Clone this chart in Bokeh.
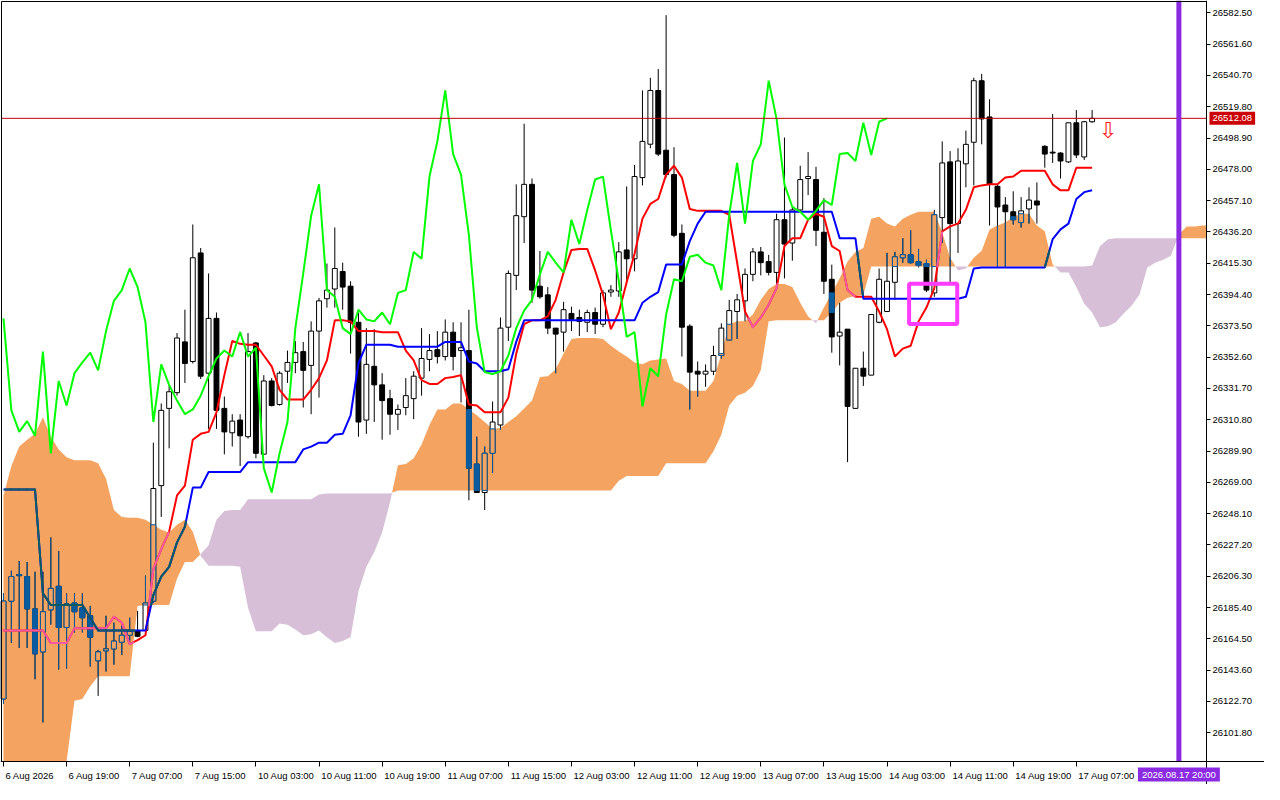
import numpy as np
from bokeh.plotting import figure
from bokeh.models import Range1d, FixedTicker, NumeralTickFormatter, Label, BoxAnnotation
from bokeh.core.properties import value
from bokeh.embed import file_html
from bokeh.resources import INLINE

# hourly candles, 6 Aug 2026 11:00 .. 17 Aug 2026 (bar index = position on the chart)
opens = [
    26124.4, 26189.7, 26207.4, 26206.1, 26184.5, 26155.8, 26183.9, 26199.6, 26172.1, 26188.4,
    26185.2, 26179.9, 26149.9, 26156.5, 26157.8, 26162.3, 26166.9, 26170.1, 26170.1, 26189.7,
    26266.8, 26318.4, 26328.9, 26362.8, 26349.7, 26422.2, 26341.9, 26378.5, 26318.4, 26302.1,
    26310.6, 26299.5, 26362.1, 26287.8, 26336.7, 26321.0, 26343.2, 26349.1, 26356.3, 26347.1,
    26370.0, 26391.6, 26398.1, 26409.8, 26400.0, 26375.9, 26310.6, 26346.5, 26334.1, 26324.9,
    26314.5, 26319.0, 26324.9, 26338.6, 26351.1, 26357.6, 26353.0, 26369.3, 26357.0, 26357.0,
    26281.2, 26262.2, 26288.4, 26307.3, 26372.6, 26407.2, 26446.4, 26468.0, 26400.0, 26394.2,
    26372.0, 26369.3, 26381.8, 26379.1, 26375.9, 26382.4, 26374.6, 26396.1, 26396.8, 26424.2,
    26418.3, 26472.5, 26494.8, 26530.7, 26490.8, 26474.5, 26435.3, 26373.3, 26343.2, 26341.3,
    26343.2, 26353.7, 26364.1, 26383.1, 26390.2, 26407.9, 26422.9, 26416.4, 26409.2, 26444.4,
    26428.8, 26450.9, 26471.9, 26471.2, 26436.0, 26404.6, 26366.7, 26371.3, 26318.4, 26345.2,
    26340.6, 26375.9, 26383.1, 26402.6, 26419.0, 26421.0, 26416.4, 26415.1, 26395.5, 26445.8,
    26483.0, 26441.8, 26481.7, 26496.1, 26537.2, 26513.0, 26466.7, 26454.2, 26449.7, 26442.5,
    26451.6, 26456.9, 26493.4, 26489.5, 26488.9, 26483.0, 26509.1, 26486.3, 26509.8,
]
highs = [
    26194.9, 26210.0, 26216.5, 26215.8, 26209.3, 26209.3, 26232.2, 26223.1, 26194.9, 26194.9,
    26194.9, 26186.5, 26157.1, 26179.9, 26175.3, 26173.4, 26178.6, 26183.2, 26206.7, 26295.5,
    26321.7, 26334.1, 26368.7, 26384.3, 26441.2, 26425.5, 26408.5, 26382.4, 26326.3, 26314.5,
    26314.5, 26368.7, 26362.8, 26340.6, 26338.6, 26343.2, 26357.0, 26363.4, 26362.8, 26376.5,
    26392.2, 26415.1, 26439.2, 26415.7, 26403.3, 26382.4, 26372.0, 26371.3, 26341.9, 26330.8,
    26321.0, 26338.6, 26343.2, 26372.0, 26368.0, 26370.0, 26377.8, 26375.9, 26375.9, 26384.3,
    26299.5, 26292.9, 26323.0, 26379.1, 26410.5, 26468.0, 26508.5, 26471.9, 26423.5, 26399.4,
    26372.0, 26389.6, 26386.3, 26384.3, 26384.3, 26385.7, 26397.4, 26400.7, 26429.4, 26466.6,
    26481.0, 26530.7, 26539.2, 26545.0, 26581.0, 26492.8, 26441.2, 26374.6, 26349.7, 26347.8,
    26360.2, 26375.2, 26390.9, 26394.8, 26411.8, 26425.5, 26426.2, 26420.9, 26448.4, 26499.3,
    26452.9, 26480.4, 26489.5, 26479.7, 26458.8, 26414.4, 26388.9, 26371.3, 26345.2, 26356.3,
    26381.1, 26411.8, 26422.2, 26422.9, 26432.0, 26437.3, 26424.9, 26417.7, 26451.0, 26496.7,
    26490.2, 26492.1, 26503.9, 26539.2, 26541.8, 26524.8, 26468.0, 26459.5, 26463.4, 26459.5,
    26466.0, 26469.3, 26494.1, 26515.0, 26489.5, 26509.1, 26517.6, 26510.4, 26517.6,
]
lows = [
    26121.2, 26161.7, 26158.4, 26158.4, 26137.5, 26108.7, 26174.0, 26144.0, 26144.7, 26168.8,
    26168.8, 26146.0, 26126.4, 26142.7, 26147.3, 26153.8, 26160.4, 26165.6, 26166.9, 26188.4,
    26245.9, 26291.7, 26326.9, 26335.4, 26348.4, 26338.0, 26304.7, 26304.7, 26287.7, 26292.9,
    26279.9, 26298.2, 26285.1, 26287.8, 26319.7, 26320.3, 26335.4, 26341.9, 26319.0, 26314.5,
    26325.6, 26385.7, 26385.7, 26384.3, 26355.0, 26299.5, 26301.4, 26309.3, 26297.5, 26300.8,
    26304.0, 26313.8, 26311.2, 26326.9, 26343.2, 26348.4, 26350.4, 26343.8, 26322.3, 26257.0,
    26262.2, 26250.5, 26275.3, 26304.0, 26363.4, 26397.4, 26428.8, 26388.9, 26391.6, 26368.0,
    26341.9, 26356.3, 26370.0, 26366.7, 26369.3, 26368.0, 26372.6, 26392.9, 26392.9, 26403.3,
    26409.9, 26467.3, 26492.1, 26486.9, 26472.5, 26432.7, 26353.0, 26317.7, 26326.3, 26332.8,
    26340.6, 26351.7, 26364.1, 26364.8, 26376.5, 26403.3, 26407.2, 26407.2, 26400.7, 26405.2,
    26417.0, 26449.6, 26460.8, 26426.8, 26394.8, 26355.6, 26347.1, 26282.5, 26318.4, 26333.4,
    26340.6, 26375.2, 26383.1, 26390.9, 26415.7, 26415.1, 26412.5, 26396.1, 26392.9, 26428.8,
    26402.6, 26422.2, 26466.0, 26467.3, 26494.7, 26440.5, 26412.5, 26412.5, 26441.2, 26439.2,
    26441.8, 26441.8, 26479.1, 26482.3, 26471.9, 26482.3, 26485.6, 26484.3, 26509.1,
]
closes = [
    26189.7, 26206.1, 26206.7, 26184.5, 26154.5, 26182.6, 26198.2, 26172.1, 26187.8, 26182.6,
    26178.6, 26165.6, 26155.8, 26157.8, 26163.0, 26166.9, 26169.5, 26166.2, 26188.4, 26264.9,
    26317.1, 26329.5, 26365.4, 26348.4, 26419.0, 26339.9, 26378.5, 26317.1, 26302.7, 26309.9,
    26300.1, 26356.3, 26288.4, 26336.7, 26320.3, 26341.9, 26349.1, 26355.6, 26343.8, 26370.0,
    26390.2, 26397.4, 26411.8, 26399.4, 26375.9, 26309.3, 26347.8, 26334.1, 26323.6, 26314.5,
    26317.7, 26326.9, 26339.9, 26351.7, 26357.0, 26353.0, 26369.3, 26353.0, 26358.9, 26278.5,
    26262.2, 26288.4, 26309.3, 26372.0, 26408.5, 26447.1, 26468.0, 26397.4, 26392.9, 26372.0,
    26368.0, 26384.3, 26377.8, 26376.5, 26382.4, 26374.6, 26395.5, 26397.4, 26422.9, 26418.3,
    26473.2, 26496.7, 26530.7, 26488.2, 26474.5, 26434.0, 26372.6, 26342.6, 26341.3, 26343.2,
    26353.7, 26372.0, 26383.7, 26390.9, 26407.9, 26422.9, 26415.7, 26409.2, 26444.4, 26428.1,
    26450.9, 26471.2, 26473.2, 26437.3, 26403.3, 26366.1, 26369.3, 26319.7, 26345.2, 26339.9,
    26381.1, 26404.6, 26403.3, 26419.6, 26421.0, 26415.7, 26413.8, 26397.4, 26447.7, 26482.3,
    26441.8, 26483.6, 26494.7, 26537.2, 26511.7, 26468.0, 26452.9, 26449.7, 26444.4, 26450.3,
    26457.5, 26454.2, 26488.2, 26488.9, 26483.6, 26509.1, 26487.6, 26509.8, 26512.08,
]

# Ichimoku lines
tenkan = [
    26170.1, 26170.1, 26170.1, 26170.1, 26170.1, 26170.1, 26161.7, 26161.7, 26161.7, 26171.5,
    26171.5, 26171.5, 26171.5, 26171.5, 26179.3, 26175.3, 26161.0, 26163.6, 26166.9, 26211.3,
    26224.4, 26236.1, 26260.3, 26266.8, 26297.5, 26301.4, 26302.7, 26315.8, 26340.6, 26363.4,
    26361.5, 26360.9, 26360.9, 26353.7, 26346.5, 26330.8, 26324.3, 26324.3, 26324.3, 26330.8,
    26338.6, 26350.4, 26377.2, 26377.2, 26376.5, 26370.0, 26370.0, 26370.0, 26369.3, 26369.3,
    26369.3, 26357.0, 26350.4, 26337.3, 26334.7, 26334.7, 26338.6, 26339.3, 26340.6, 26321.0,
    26320.3, 26315.8, 26315.8, 26315.8, 26325.6, 26355.0, 26374.6, 26377.2, 26377.2, 26379.8,
    26390.9, 26409.2, 26424.2, 26424.9, 26424.9, 26410.5, 26394.2, 26371.3, 26382.4, 26402.7,
    26421.6, 26445.1, 26454.9, 26458.2, 26474.5, 26480.4, 26472.5, 26451.6, 26450.3, 26450.3,
    26450.3, 26450.3, 26447.7, 26415.7, 26383.1, 26372.6, 26379.1, 26387.6, 26398.7, 26426.8,
    26432.0, 26432.0, 26444.4, 26448.4, 26446.4, 26426.8, 26423.5, 26397.4, 26392.9, 26392.9,
    26392.9, 26383.1, 26371.3, 26353.0, 26358.3, 26360.2, 26376.5, 26385.7, 26398.7, 26436.6,
    26439.9, 26441.8, 26451.0, 26466.0, 26467.3, 26468.0, 26468.0, 26472.5, 26473.2, 26477.1,
    26477.1, 26477.1, 26477.1, 26468.0, 26464.0, 26464.0, 26479.1, 26479.1, 26479.1,
]
kijun = [
    26264.2, 26264.2, 26264.2, 26264.2, 26264.2, 26194.9, 26187.1, 26187.1, 26187.1, 26187.1,
    26187.1, 26178.6, 26170.1, 26170.1, 26170.1, 26170.1, 26170.1, 26170.1, 26170.1, 26193.7,
    26206.1, 26212.6, 26228.9, 26239.4, 26265.5, 26265.5, 26275.9, 26275.9, 26275.9, 26275.9,
    26275.9, 26282.5, 26282.5, 26282.5, 26282.5, 26282.5, 26282.5, 26282.5, 26291.0, 26292.9,
    26295.5, 26295.5, 26300.8, 26301.4, 26313.8, 26348.4, 26360.9, 26360.9, 26360.9, 26360.9,
    26359.6, 26359.6, 26359.6, 26359.6, 26359.6, 26359.6, 26362.8, 26362.8, 26362.8, 26349.7,
    26348.4, 26343.2, 26343.2, 26343.2, 26344.5, 26362.8, 26377.2, 26377.2, 26377.2, 26377.2,
    26377.2, 26377.2, 26377.2, 26377.2, 26377.2, 26377.2, 26377.2, 26377.2, 26377.2, 26377.2,
    26377.2, 26388.9, 26392.9, 26396.1, 26414.4, 26414.4, 26414.4, 26430.1, 26441.8, 26449.7,
    26449.7, 26449.7, 26449.7, 26449.7, 26449.7, 26449.7, 26449.7, 26449.7, 26449.7, 26449.7,
    26449.7, 26449.7, 26449.7, 26449.7, 26449.7, 26449.7, 26432.0, 26432.0, 26432.0, 26391.6,
    26391.6, 26391.6, 26391.6, 26391.6, 26391.6, 26391.6, 26391.6, 26391.6, 26391.6, 26391.6,
    26391.6, 26391.6, 26392.9, 26411.8, 26412.5, 26412.5, 26412.5, 26412.5, 26412.5, 26412.5,
    26412.5, 26412.5, 26412.5, 26431.4, 26437.9, 26441.8, 26458.2, 26462.8, 26464.1,
]
# Senkou spans (already shifted 26 bars ahead, so they run past the last candle)
span_a = [
    26260.3, 26279.9, 26293.0, 26297.5, 26301.4, 26312.5, 26299.5, 26291.0, 26285.8, 26283.8,
    26283.8, 26283.8, 26281.8, 26271.4, 26250.5, 26245.9, 26245.3, 26245.3, 26244.0, 26240.7,
    26237.4, 26235.5, 26240.7, 26244.0, 26236.1, 26219.8, 26213.3, 26213.3, 26213.3, 26213.3,
    26212.6, 26185.2, 26169.5, 26169.5, 26169.5, 26174.7, 26174.0, 26170.8, 26166.9, 26167.5,
    26170.1, 26165.6, 26161.7, 26163.0, 26165.6, 26196.3, 26212.6, 26222.4, 26235.5, 26255.7,
    26280.5, 26281.2, 26285.1, 26294.2, 26307.3, 26317.7, 26317.7, 26321.7, 26321.7, 26317.7,
    26313.8, 26309.3, 26304.7, 26305.3, 26309.3, 26313.2, 26318.4, 26323.6, 26339.3, 26339.9,
    26344.5, 26355.0, 26364.8, 26365.4, 26365.4, 26365.4, 26364.8, 26360.2, 26356.3, 26353.0,
    26349.1, 26347.8, 26350.4, 26351.1, 26351.7, 26336.7, 26334.7, 26330.2, 26330.2, 26330.2,
    26336.7, 26355.0, 26374.6, 26376.5, 26376.5, 26381.1, 26390.9, 26398.1, 26401.4, 26401.4,
    26399.4, 26388.9, 26379.8, 26375.2, 26385.7, 26395.5, 26405.3, 26416.4, 26422.9, 26425.5,
    26445.1, 26446.4, 26441.8, 26439.9, 26445.1, 26447.7, 26449.7, 26449.7, 26449.7, 26435.9,
    26419.0, 26410.5, 26411.8, 26419.0, 26423.6, 26437.9, 26440.5, 26442.5, 26446.4, 26448.4,
    26448.4, 26440.5, 26436.6, 26414.4, 26409.2, 26409.2, 26399.4, 26388.3, 26382.4, 26372.6,
    26373.3, 26375.9, 26381.8, 26387.0, 26394.2, 26412.5, 26415.7, 26417.7, 26420.3, 26434.7,
    26439.9, 26439.9, 26440.5, 26440.5,
]
span_b = [
    26074.2, 26074.2, 26074.2, 26074.2, 26074.2, 26074.2, 26074.2, 26074.2, 26074.2, 26123.2,
    26124.4, 26132.9, 26139.5, 26139.5, 26139.5, 26139.5, 26139.5, 26186.5, 26187.1, 26187.1,
    26187.1, 26187.1, 26204.8, 26215.9, 26215.9, 26221.1, 26227.0, 26244.0, 26249.8, 26250.5,
    26250.5, 26257.7, 26257.7, 26257.7, 26257.7, 26257.7, 26257.7, 26257.7, 26257.7, 26257.7,
    26260.9, 26261.6, 26261.6, 26261.6, 26261.6, 26261.6, 26261.6, 26261.6, 26261.6, 26261.6,
    26263.6, 26263.6, 26263.6, 26263.6, 26263.6, 26263.6, 26263.6, 26263.6, 26263.6, 26263.6,
    26263.6, 26263.6, 26263.6, 26263.6, 26263.6, 26263.6, 26263.6, 26263.6, 26263.6, 26263.6,
    26263.6, 26263.6, 26263.6, 26263.6, 26263.6, 26263.6, 26263.6, 26263.6, 26270.1, 26273.3,
    26273.3, 26273.3, 26273.3, 26273.3, 26281.8, 26281.8, 26281.8, 26281.8, 26281.8, 26281.8,
    26289.7, 26300.8, 26320.4, 26326.9, 26328.9, 26333.4, 26343.9, 26376.5, 26377.2, 26377.2,
    26377.2, 26377.2, 26377.2, 26377.2, 26377.2, 26382.4, 26388.9, 26392.2, 26393.5, 26394.2,
    26413.1, 26413.1, 26413.1, 26413.1, 26413.1, 26413.1, 26413.1, 26413.1, 26413.1, 26413.1,
    26413.1, 26413.1, 26413.1, 26413.1, 26413.1, 26413.1, 26413.1, 26413.1, 26413.1, 26413.1,
    26413.1, 26413.1, 26413.1, 26413.1, 26413.1, 26413.1, 26413.1, 26413.1, 26413.8, 26426.8,
    26431.4, 26432.0, 26432.0, 26432.0, 26432.0, 26432.0, 26432.0, 26432.0, 26432.0, 26432.0,
    26432.0, 26432.0, 26432.0, 26432.0,
]

time_labels = [
    "6 Aug 2026", "6 Aug 19:00", "7 Aug 07:00", "7 Aug 15:00", "10 Aug 03:00", "10 Aug 11:00",
    "10 Aug 19:00", "11 Aug 07:00", "11 Aug 15:00", "12 Aug 03:00", "12 Aug 11:00", "12 Aug 19:00",
    "13 Aug 07:00", "13 Aug 15:00", "14 Aug 03:00", "14 Aug 11:00", "14 Aug 19:00", "17 Aug 07:00",
]
price_ticks = [
    26101.80, 26122.70, 26143.60, 26164.50, 26185.40, 26206.30, 26227.20, 26248.10,
    26269.00, 26289.90, 26310.80, 26331.70, 26352.60, 26373.50, 26394.40, 26415.30,
    26436.20, 26457.10, 26478.00, 26498.90, 26519.80, 26540.70, 26561.60, 26582.50,
]
last_price = 26512.08
cursor_bar = 149
cursor_label = "2026.08.17 20:00"
signal_bar = 140
signal_price = 26503.9
box_bars = (114.8, 120.9)
box_prices = (26374.8, 26401.6)

ORANGE = "#f4a460"
THISTLE = "#d8bfd8"
# MT4 paints the cloud in XOR mode: black, red and blue turn into these
INV_BLACK = "#0b5b9f"
INV_RED = "#f45b9f"
INV_BLUE = "#0b5b60"
FONT = "Liberation Sans"
FONT_PX = 9.5

W, H = 1264, 784
RIGHT_PX, BOTTOM_PX = 58, 23          # room for the price and time scales
X0, XA = -0.25, 152.5                 # visible bars; price scale sits at XA
Y0, Y1 = 26082.6, 26590.1             # visible prices; time scale sits at Y0
BAR_PX = (W - RIGHT_PX - 1) / (XA - X0)
PRICE_PX = (Y1 - Y0) / (H - BOTTOM_PX - 1)

n = len(closes)
idx = np.arange(n)
o, h, l, c = (np.array(v, dtype=float) for v in (opens, highs, lows, closes))
sa = np.array(span_a)
sb = np.array(span_b)

# the frame covers the whole canvas so the scales and their tags can be drawn in it
p = figure(width=W, height=H,
           x_range=Range1d(X0 - 1 / BAR_PX, XA + RIGHT_PX / BAR_PX),
           y_range=Range1d(Y0 - BOTTOM_PX * PRICE_PX, Y1 + PRICE_PX),
           y_axis_location="right", output_backend="svg", toolbar_location=None,
           min_border=0)
p.grid.visible = False
p.outline_line_color = None
p.background_fill_color = "white"
p.border_fill_color = "white"

# cloud, with the crossing points added so both colours meet cleanly,
# cut off at the price scale
cx, ca, cb = [], [], []
for i in range(len(sa)):
    if i > XA:
        break
    cx.append(i)
    ca.append(sa[i])
    cb.append(sb[i])
    if i + 1 < len(sa):
        d0, d1 = sa[i] - sb[i], sa[i + 1] - sb[i + 1]
        if d0 * d1 < 0:
            t = d0 / (d0 - d1)
            if i + t < XA:
                yv = sa[i] + (sa[i + 1] - sa[i]) * t
                cx.append(i + t)
                ca.append(yv)
                cb.append(yv)
        if i + 1 > XA:
            t = XA - i
            cx.append(XA)
            ca.append(sa[i] + (sa[i + 1] - sa[i]) * t)
            cb.append(sb[i] + (sb[i + 1] - sb[i]) * t)
ca = np.array(ca)
cb = np.array(cb)
ctop = np.maximum(ca, cb)
cbot = np.maximum(np.minimum(ca, cb), Y0)
p.varea(x=cx, y1=np.maximum(cb, Y0), y2=np.maximum(ctop, Y0), fill_color=ORANGE)
p.varea(x=cx, y1=np.maximum(ca, Y0), y2=np.maximum(ctop, Y0), fill_color=THISTLE)

# candles
up = c >= o
bw = 0.62
p.segment(idx, h, idx, l, line_color="black", line_width=1)
p.vbar(x=idx[up], width=bw, top=c[up], bottom=o[up], fill_color="white", line_color="black")
p.vbar(x=idx[~up], width=bw, top=o[~up], bottom=c[~up], fill_color="black", line_color="black")

# candle parts that sit inside the orange cloud
a_n, b_n = sa[:n], sb[:n]
w_hi = np.minimum(h, a_n)
w_lo = np.maximum(l, b_n)
m = w_hi > w_lo
p.segment(idx[m], w_hi[m], idx[m], w_lo[m], line_color=INV_BLACK, line_width=1)
b_hi = np.minimum(np.maximum(o, c), a_n)
b_lo = np.maximum(np.minimum(o, c), b_n)
mb = b_hi > b_lo
mu, md = mb & up, mb & ~up
p.vbar(x=idx[mu], width=bw, top=b_hi[mu], bottom=b_lo[mu], fill_color=ORANGE, line_color=INV_BLACK)
p.vbar(x=idx[md], width=bw, top=b_hi[md], bottom=b_lo[md], fill_color=INV_BLACK, line_color=INV_BLACK)


def inside_cloud(v):
    """pieces of a line between bars that run inside the orange cloud"""
    x0, y0, x1, y1 = [], [], [], []
    for i in range(len(v) - 1):
        lo, hi = 0.0, 1.0
        for f0, f1 in ((sa[i] - v[i], sa[i + 1] - v[i + 1]), (v[i] - sb[i], v[i + 1] - sb[i + 1])):
            if f0 <= 0 and f1 <= 0:
                lo, hi = 1.0, 0.0
                break
            if f0 > 0 and f1 > 0:
                continue
            t = f0 / (f0 - f1)
            if f0 > 0:
                hi = min(hi, t)
            else:
                lo = max(lo, t)
        if hi > lo:
            x0.append(i + lo)
            y0.append(v[i] + (v[i + 1] - v[i]) * lo)
            x1.append(i + hi)
            y1.append(v[i] + (v[i + 1] - v[i]) * hi)
    return x0, y0, x1, y1


tk = np.array(tenkan)
kj = np.array(kijun)
p.line(idx, tk, line_color="#ff0000", line_width=2)
p.segment(*inside_cloud(tk), line_color=INV_RED, line_width=2, line_cap="round")
p.line(idx, kj, line_color="#0000ff", line_width=2)
p.segment(*inside_cloud(kj), line_color=INV_BLUE, line_width=2, line_cap="round")
# chikou span: the close plotted 26 bars back
p.line(idx[:n - 26], c[26:], line_color="#00ff00", line_width=2)

# markers
p.add_layout(BoxAnnotation(left=box_bars[0], right=box_bars[1], bottom=box_prices[0], top=box_prices[1],
                           fill_alpha=0, line_color="#ff3cff", line_alpha=1, line_width=4))
p.text(x=[signal_bar], y=[signal_price], text=["\u21e9"], text_color="#ff2020",
       text_font=value("DejaVu Sans"), text_font_size="22px", text_align="center", text_baseline="middle")
p.segment(x0=[X0], y0=[last_price], x1=[XA], y1=[last_price], line_color="#c00000", line_width=1)
p.segment(x0=[cursor_bar], y0=[Y0], x1=[cursor_bar], y1=[Y1 + PRICE_PX], line_color="#8a2be2", line_width=5)

# chart border (right and bottom sides coincide with the scales)
p.add_layout(BoxAnnotation(left=X0, right=XA, bottom=Y0, top=Y1, fill_alpha=0,
                           line_color="black", line_alpha=1, line_width=1))

# scales, pinned to the chart edges inside the frame
WIDTHS = {" ": 0.278, ":": 0.278, ".": 0.278, "A": 0.667}


def text_px(s):
    return sum(WIDTHS.get(ch, 0.556) for ch in s) * FONT_PX


# MT4 writes time labels to the right of their tick, so the labels sit on major
# ticks moved right by half their width and the real ticks are minor ticks
time_ticks = [8 * k for k in range(len(time_labels))]
label_pos = [t + (text_px(s) / 2 + 2) / BAR_PX for t, s in zip(time_ticks, time_labels)]
p.xaxis.fixed_location = Y0
p.xaxis.ticker = FixedTicker(ticks=label_pos, minor_ticks=time_ticks)
p.xaxis.major_label_overrides = {pos: s for pos, s in zip(label_pos, time_labels)}
p.xaxis.major_tick_out = 0
p.xaxis.major_tick_in = 0
p.xaxis.minor_tick_out = 5
p.xaxis.minor_tick_in = 0
p.xaxis.minor_tick_line_color = "black"
p.xaxis.major_label_standoff = 3

p.yaxis.fixed_location = XA
p.yaxis.ticker = FixedTicker(ticks=price_ticks)
p.yaxis.formatter = NumeralTickFormatter(format="0.00")
p.yaxis.major_tick_out = 4
p.yaxis.major_tick_in = 0
p.yaxis.minor_tick_out = 0
p.yaxis.minor_tick_in = 0
p.yaxis.major_label_standoff = 2

p.axis.major_label_text_font = FONT
p.axis.major_label_text_font_size = f"{FONT_PX}px"
p.axis.major_label_text_color = "black"
p.axis.axis_line_color = "black"
p.axis.major_tick_line_color = "black"

# price and cursor tags on the scales: coloured boxes, then plain text on them
price_w = (text_px(f"{last_price:.2f}") + 6) / BAR_PX
cursor_w = (text_px(cursor_label) + 8) / BAR_PX
p.add_layout(BoxAnnotation(left=XA + 3 / BAR_PX, right=XA + 3 / BAR_PX + price_w,
                           bottom=last_price - 6.5 * PRICE_PX, top=last_price + 6.5 * PRICE_PX,
                           fill_color="#cc0000", fill_alpha=1, line_color=None))
p.add_layout(BoxAnnotation(left=cursor_bar - cursor_w / 2, right=cursor_bar + cursor_w / 2,
                           bottom=Y0 - 20 * PRICE_PX, top=Y0 - 6 * PRICE_PX,
                           fill_color="#8a2be2", fill_alpha=1, line_color=None))
p.add_layout(Label(x=XA + 6 / BAR_PX, y=last_price, text=f"{last_price:.2f}", text_color="white",
                   text_font=FONT, text_font_size=f"{FONT_PX}px", text_align="left", text_baseline="middle"))
p.add_layout(Label(x=cursor_bar, y=Y0 - 13 * PRICE_PX, text=cursor_label, text_color="white",
                   text_font=FONT, text_font_size=f"{FONT_PX}px", text_align="center", text_baseline="middle"))

open("out.html", "w").write(file_html(p, INLINE))
